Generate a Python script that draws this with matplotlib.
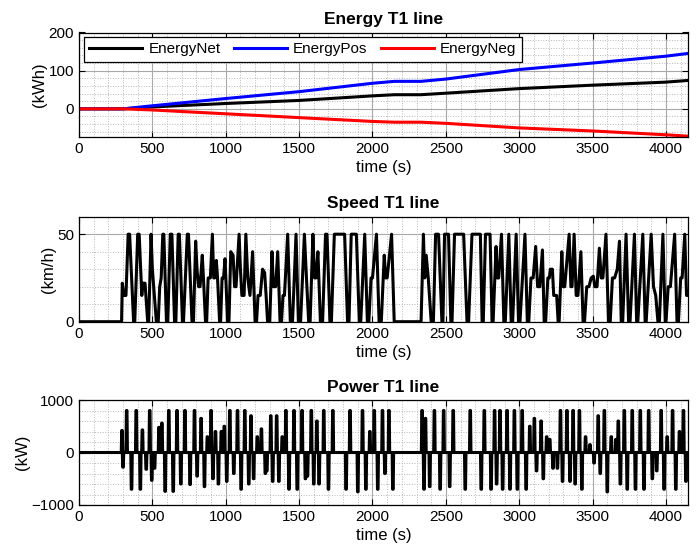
import numpy as np
import matplotlib
matplotlib.use("Agg")
import matplotlib.pyplot as plt
from matplotlib.ticker import MultipleLocator

plt.rcParams['font.family'] = ['Liberation Sans', 'DejaVu Sans']

# energy (kWh), read at a few times
energy_t = [0, 300, 500, 1000, 1500, 2000, 2150, 2330, 2500, 3000, 3500, 4000, 4170]
energy_net = [0, 0, 5, 14, 22, 34, 37, 37, 41, 53, 62, 70, 75]
energy_pos = [0, 0, 8, 27, 45, 67, 72, 72, 78, 103, 120, 138, 146]
energy_neg = [0, 0, -3, -13, -23, -33, -35, -35, -38, -50, -58, -68, -72]

# speed breakpoints (s, km/h)
speed_pts = [
    (0, 0), (290, 0), (295, 22), (305, 15), (320, 15), (335, 50), (345, 50), (372, 0),
    (380, 0), (400, 50), (410, 50), (428, 15), (435, 22), (450, 22), (468, 0),
    (475, 0), (491, 50), (500, 30), (527, 0), (540, 0), (550, 20), (560, 25),
    (571, 50), (578, 50), (596, 0), (605, 0), (622, 50), (633, 50), (651, 0),
    (660, 0), (676, 50), (684, 50), (705, 0), (712, 0), (738, 50), (746, 50),
    (770, 0), (780, 0), (795, 46), (805, 29), (815, 20), (825, 20), (840, 38),
    (848, 25), (862, 0), (870, 0), (880, 25), (895, 25), (909, 50), (918, 25),
    (925, 25), (936, 35), (944, 25), (958, 0), (965, 0), (975, 25), (985, 25),
    (995, 36), (1003, 20), (1012, 0), (1022, 0), (1034, 40), (1050, 38),
    (1060, 20), (1070, 20), (1091, 50), (1100, 30), (1110, 15), (1125, 15),
    (1137, 50), (1150, 25), (1165, 15), (1183, 40), (1200, 0), (1210, 0),
    (1220, 15), (1235, 15), (1251, 30), (1265, 28), (1275, 15), (1285, 0),
    (1300, 0), (1315, 40), (1325, 20), (1340, 20), (1354, 40), (1370, 0),
    (1380, 0), (1390, 15), (1400, 15), (1422, 50), (1440, 0), (1455, 0),
    (1479, 50), (1495, 0), (1510, 0), (1536, 50), (1550, 25), (1565, 0),
    (1575, 0), (1594, 50), (1605, 25), (1615, 25), (1628, 40), (1645, 0),
    (1660, 0), (1680, 50), (1690, 50), (1710, 0), (1720, 0), (1740, 50),
    (1810, 50), (1830, 0), (1840, 0), (1855, 50), (1890, 50), (1910, 0),
    (1920, 0), (1947, 50), (1965, 0), (1975, 0), (1990, 25), (2000, 25),
    (2027, 50), (2045, 0), (2060, 0), (2080, 38), (2090, 25), (2100, 25),
    (2130, 50), (2148, 0), (2331, 0), (2347, 50), (2356, 25), (2366, 38),
    (2380, 25), (2400, 0), (2415, 0), (2430, 50), (2450, 50), (2473, 0),
    (2480, 0), (2491, 50), (2518, 50), (2534, 0), (2542, 0), (2559, 50),
    (2621, 50), (2644, 0), (2655, 0), (2678, 50), (2735, 50), (2747, 0),
    (2755, 0), (2770, 50), (2801, 50), (2815, 0), (2822, 0), (2842, 43),
    (2850, 25), (2860, 25), (2879, 50), (2895, 0), (2905, 0), (2929, 50),
    (2945, 0), (2955, 0), (2979, 50), (2995, 0), (3005, 0), (3039, 50),
    (3055, 0), (3065, 0), (3080, 25), (3095, 25), (3112, 43), (3125, 20),
    (3140, 20), (3158, 41), (3170, 0), (3180, 0), (3195, 25), (3205, 25),
    (3212, 30), (3226, 30), (3235, 15), (3255, 15), (3265, 0), (3272, 0),
    (3290, 40), (3300, 20), (3310, 20), (3340, 50), (3352, 20), (3360, 20),
    (3374, 50), (3388, 15), (3400, 15), (3420, 40), (3435, 0), (3445, 0),
    (3460, 20), (3475, 20), (3490, 25), (3505, 26), (3515, 20), (3530, 20),
    (3546, 42), (3558, 25), (3570, 25), (3591, 50), (3608, 0), (3620, 0),
    (3635, 25), (3650, 25), (3668, 30), (3683, 46), (3695, 0), (3705, 0),
    (3728, 50), (3745, 0), (3755, 0), (3785, 50), (3800, 0), (3808, 0),
    (3842, 50), (3858, 0), (3865, 0), (3899, 50), (3915, 20), (3930, 15),
    (3945, 0), (3955, 0), (3979, 50), (3995, 0), (4000, 0), (4015, 20),
    (4030, 20), (4059, 50), (4075, 0), (4085, 0), (4100, 25), (4110, 25),
    (4128, 50), (4140, 15), (4155, 15), (4170, 25),
]
speed_t = [p[0] for p in speed_pts]
speed_v = [p[1] for p in speed_pts]

# power spikes (s, kW)
power_ev = [
    (293, 420), (300, -280), (325, 800), (358, -700), (390, 800), (418, -700),
    (432, 430), (458, -320), (482, 800), (496, -530), (515, -300), (545, 480),
    (565, 560), (587, -740), (612, 800), (642, -740), (668, 800), (694, -600),
    (722, 800), (757, -610), (787, 800), (805, -450), (832, 650), (855, -650),
    (875, 300), (900, 800), (913, -500), (930, 400), (950, -600), (970, 400),
    (990, 500), (1007, -550), (1028, 800), (1055, -400), (1080, 800),
    (1105, -700), (1130, 800), (1157, -600), (1172, 700), (1190, -500),
    (1215, 300), (1243, 450), (1270, -400), (1280, -350), (1307, 700),
    (1320, -550), (1347, 700), (1362, -550), (1385, 300), (1410, 800),
    (1431, -700), (1465, 800), (1487, -700), (1520, 800), (1543, -500),
    (1557, -450), (1583, 800), (1600, -600), (1621, 600), (1636, -600),
    (1668, 800), (1700, -700), (1730, 800), (1820, -700), (1847, 800),
    (1900, -750), (1932, 800), (1955, -700), (1982, 400), (2012, 800),
    (2036, -700), (2068, 800), (2085, -400), (2112, 800), (2139, -700),
    (2338, 800), (2351, -700), (2361, 650), (2390, -650), (2422, 800),
    (2461, -700), (2485, 800), (2526, -650), (2550, 800), (2632, -700),
    (2666, 800), (2741, -700), (2762, 800), (2808, -700), (2832, 800),
    (2846, -600), (2869, 800), (2887, -700), (2917, 800), (2937, -700),
    (2967, 800), (2987, -700), (3020, 800), (3047, -700), (3072, 500),
    (3103, 650), (3118, -350), (3149, 600), (3164, -500), (3187, 300),
    (3208, 250), (3230, -300), (3260, -300), (3281, 800), (3295, -550),
    (3325, 800), (3346, -550), (3367, 800), (3381, -600), (3410, 800),
    (3427, -700), (3452, 300), (3482, 150), (3510, -200), (3538, 700),
    (3552, -400), (3580, 800), (3600, -750), (3627, 300), (3659, 250),
    (3675, 600), (3689, -600), (3716, 800), (3736, -700), (3770, 800),
    (3792, -700), (3825, 800), (3850, -700), (3882, 800), (3907, -500),
    (3937, -350), (3967, 800), (3987, -700), (4008, 300), (4045, 800),
    (4067, -700), (4092, 400), (4119, 800), (4136, -550), (4166, 500),
]

# each spike drawn as a short flat-topped pulse around its time
power_t = [0]
power_kw = [0]
for t, p in power_ev:
    power_t += [t - 5, t - 2, t + 2, t + 5]
    power_kw += [0, p, p, 0]
power_t.append(4170)
power_kw.append(0)

W, H = 697, 553
fig = plt.figure(figsize=(W / 100, H / 100), dpi=100)

left = 79 / W
width = 609 / W
ax1 = fig.add_axes([left, 1 - 136.7 / H, width, 104.2 / H])
ax2 = fig.add_axes([left, 1 - 321.7 / H, width, 105 / H])
ax3 = fig.add_axes([left, 1 - 505 / H, width, 105 / H])

lw = 2.2
ax1.plot(energy_t, energy_net, color='k', lw=lw, label='EnergyNet')
ax1.plot(energy_t, energy_pos, color='b', lw=lw, label='EnergyPos')
ax1.plot(energy_t, energy_neg, color='r', lw=lw, label='EnergyNeg')
ax1.set_ylim(-73, 200)
ax1.yaxis.set_major_locator(MultipleLocator(100))
ax1.yaxis.set_minor_locator(MultipleLocator(20))
ax1.set_title('Energy T1 line', fontsize=12.5, fontweight='bold', pad=6)
ax1.set_ylabel('(kWh)', fontsize=12, labelpad=1)
leg = ax1.legend(loc='upper left', ncol=3, fontsize=11, handlelength=3.5,
                 columnspacing=0.85, handletextpad=0.4, borderaxespad=0.3,
                 fancybox=False, framealpha=1, edgecolor='k',
                 borderpad=0.35)
leg.get_frame().set_linewidth(0.9)

ax2.plot(speed_t, speed_v, color='k', lw=lw)
ax2.set_ylim(0, 60)
ax2.yaxis.set_major_locator(MultipleLocator(50))
ax2.yaxis.set_minor_locator(MultipleLocator(10))
ax2.set_title('Speed T1 line', fontsize=12.5, fontweight='bold', pad=6)
ax2.set_ylabel('(km/h)', fontsize=12, labelpad=1)

ax3.plot(power_t, power_kw, color='k', lw=lw)
ax3.set_ylim(-1000, 1000)
ax3.yaxis.set_major_locator(MultipleLocator(1000))
ax3.yaxis.set_minor_locator(MultipleLocator(200))
ax3.set_title('Power T1 line', fontsize=12.5, fontweight='bold', pad=6)
ax3.set_ylabel('(kW)', fontsize=12, labelpad=1)

for ax in (ax1, ax2, ax3):
    ax.set_xlim(0, 4150)
    ax.xaxis.set_major_locator(MultipleLocator(500))
    ax.xaxis.set_minor_locator(MultipleLocator(100))
    ax.set_xlabel('time (s)', fontsize=12, labelpad=3)
    ax.grid(which='major', color='#a8a8a8', lw=0.8, ls='-')
    ax.grid(which='minor', color='#b8b8b8', lw=0.7, ls=':')
    ax.set_axisbelow(True)
    ax.tick_params(which='both', direction='in', labelsize=11, top=True, right=True)
    ax.tick_params(which='minor', length=0)
    ax.tick_params(which='major', length=4)
    for s in ax.spines.values():
        s.set_linewidth(0.9)

fig.savefig('out.png', dpi=100)
